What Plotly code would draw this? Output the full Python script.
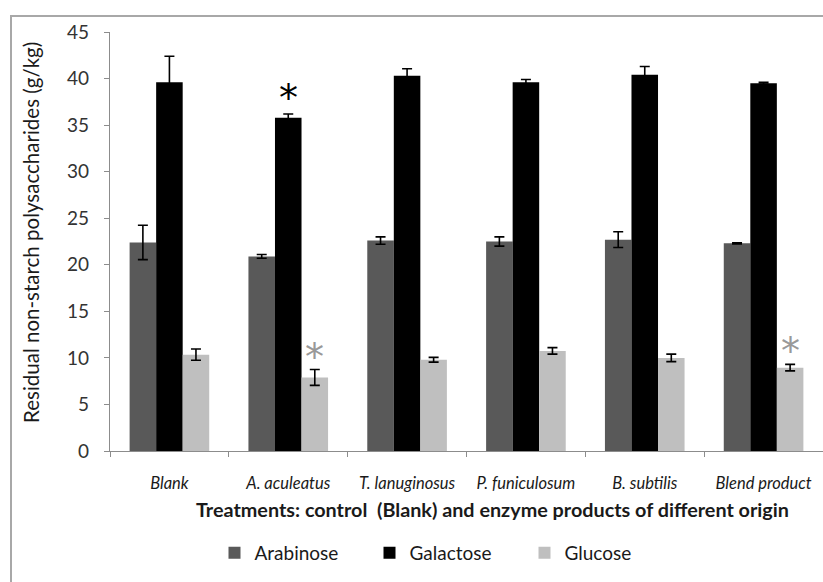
import plotly.graph_objects as go

categories = ["Blank", "A. aculeatus", "T. lanuginosus", "P. funiculosum", "B. subtilis", "Blend product"]
arabinose = [22.4, 20.9, 22.6, 22.5, 22.7, 22.3]
arabinose_err = [1.85, 0.2, 0.4, 0.5, 0.85, 0.05]
galactose = [39.6, 35.8, 40.3, 39.6, 40.4, 39.5]
galactose_err = [2.8, 0.4, 0.75, 0.3, 0.9, 0.1]
glucose = [10.35, 7.9, 9.8, 10.75, 10.0, 8.95]
glucose_err = [0.6, 0.85, 0.25, 0.35, 0.4, 0.35]

W, H = 823, 582
ML, MR, MT, MB = 110, 0, 32, 131
plot_w = W - ML - MR
plot_h = H - MT - MB
FONT = "Lato"

def err(vals):
    return dict(type="data", array=vals, visible=True, color="black", thickness=1.6, width=5)

fig = go.Figure()
fig.add_trace(go.Bar(name="Arabinose", x=categories, y=arabinose, error_y=err(arabinose_err),
                     marker=dict(color="#595959", line=dict(width=0))))
fig.add_trace(go.Bar(name="Galactose", x=categories, y=galactose, error_y=err(galactose_err),
                     marker=dict(color="#000000", line=dict(width=0))))
fig.add_trace(go.Bar(name="Glucose", x=categories, y=glucose, error_y=err(glucose_err),
                     marker=dict(color="#bfbfbf", line=dict(width=0))))

cat_w = plot_w / len(categories)
bar_w = cat_w * (1 - 0.33) / 3

# significance asterisks
fig.add_annotation(x=categories[1], y=galactose[1] + galactose_err[1], text="*", showarrow=False,
                   yanchor="bottom", yshift=-8, font=dict(size=38, color="black", family="DejaVu Sans"))
for i in (1, 5):
    fig.add_annotation(x=categories[i], y=glucose[i] + glucose_err[i], text="*", showarrow=False,
                       xshift=bar_w, yanchor="bottom", yshift=-11,
                       font=dict(size=38, color="#999999", family="DejaVu Sans"))

# axis titles
fig.add_annotation(xref="paper", yref="paper", x=(31 - ML) / plot_w, y=(H - MB - 233) / plot_h,
                   text="Residual non-starch polysaccharides (g/kg)", textangle=-90, showarrow=False,
                   xanchor="center", yanchor="middle",
                   font=dict(size=20.5, color="#1a1a1a", family=FONT))
fig.add_annotation(xref="paper", yref="paper", x=(492 - ML) / plot_w, y=(H - MB - 509) / plot_h,
                   text="<b>Treatments: control  (Blank) and enzyme products of different origin</b>",
                   showarrow=False, xanchor="center", yanchor="middle",
                   font=dict(size=19.8, color="#1a1a1a", family=FONT))

# outer frame
fig.add_shape(type="rect", xref="paper", yref="paper",
              x0=(11 - ML) / plot_w, x1=1.2, y0=-0.6, y1=(H - MB - 16) / plot_h,
              line=dict(color="#a8a8a8", width=2), layer="below")

fig.update_layout(
    width=W, height=H,
    margin=dict(l=ML, r=MR, t=MT, b=MB),
    paper_bgcolor="white", plot_bgcolor="white",
    barmode="group", bargap=0.33, bargroupgap=0,
    showlegend=True,
    legend=dict(orientation="h", xref="paper", yref="paper",
                x=(447 - ML) / plot_w, xanchor="center",
                y=(H - MB - 553) / plot_h, yanchor="middle",
                font=dict(size=19, color="#1a1a1a", family=FONT),
                entrywidth=110, entrywidthmode="pixels", itemwidth=30),
    xaxis=dict(showline=True, linecolor="#8c8c8c", linewidth=1.2,
               ticks="outside", tickson="boundaries", ticklen=5, tickcolor="#8c8c8c",
               tickfont=dict(size=16.5, color="#1a1a1a", family=FONT),
               ticklabelstandoff=17, showgrid=False, fixedrange=True),
    yaxis=dict(range=[0, 45], dtick=5, showline=True, linecolor="#8c8c8c", linewidth=1.2,
               ticks="outside", ticklen=5, tickcolor="#8c8c8c", showgrid=False, zeroline=False,
               tickfont=dict(size=19, color="#333333", family=FONT), ticklabelstandoff=11),
)

# italic tick labels
fig.update_xaxes(tickvals=categories, ticktext=[f"<i>{c}</i>" for c in categories])

fig.write_html("out.html", config={"displayModeBar": False},
               post_script="document.body.style.margin='0';document.body.style.overflow='hidden';")
